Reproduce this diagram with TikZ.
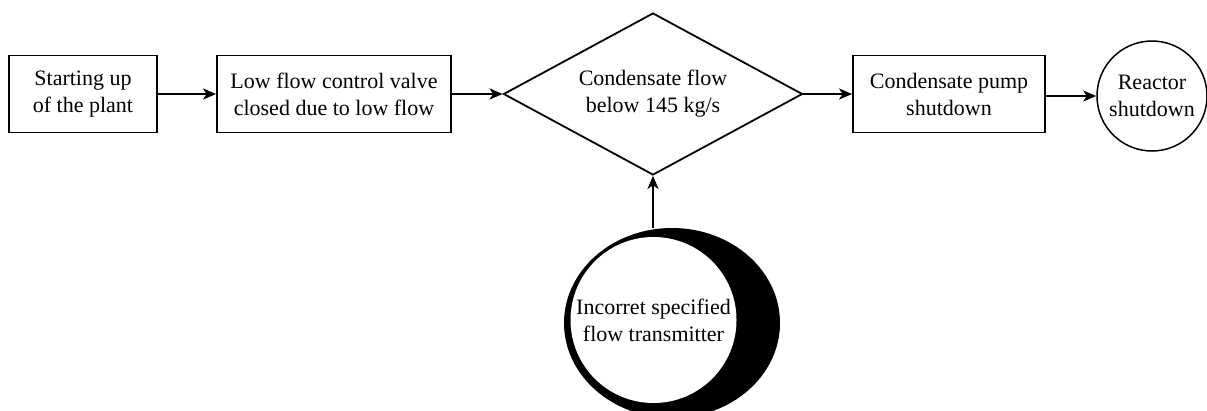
\documentclass[tikz,border=0pt]{standalone}
\usepackage{fontspec}
\setmainfont{Liberation Serif}
\usetikzlibrary{shapes.geometric,arrows.meta}
\tikzset{
  box/.style={draw, line width=1.8pt, rectangle, minimum height=77pt, inner sep=0pt, align=center, font=\fontsize{22}{27}\selectfont},
  decision/.style={draw, line width=1.8pt, diamond, shape aspect=1.85, inner sep=0pt, minimum width=299pt, minimum height=162pt, align=center, font=\fontsize{22}{27}\selectfont},
  endcircle/.style={draw, line width=1.5pt, circle, minimum size=110pt, inner sep=0pt, align=center, font=\fontsize{22}{27}\selectfont},
  shadowshape/.style={ellipse, fill=black, draw=none, minimum width=216pt, minimum height=190pt, inner sep=0pt},
  transcircle/.style={circle, fill=white, draw=none, minimum size=166pt, inner sep=0pt, align=center, font=\fontsize{22}{27}\selectfont},
  arr/.style={line width=2pt, -{Stealth[length=13pt,width=11pt,inset=3.5pt]}}
}
\begin{document}
\begin{tikzpicture}[x=1pt,y=-1pt]
  \clip (0,0) rectangle (1207,410);
  \fill[white] (0,0) rectangle (1207,410);
  \node[box, minimum width=148pt] (b1) at (83,94) {Starting up\\of the plant};
  \node[box, minimum width=234pt] (b2) at (334,94) {Low flow control valve\\closed due to low flow};
  \node[decision] (d) at (653,94) {Condensate flow\\below 145 kg/s};
  \node[box, minimum width=192pt] (b3) at (949,94) {Condensate pump\\shutdown};
  \node[endcircle] (c) at (1152,96) {Reactor\\shutdown};
  \node[shadowshape] (sh) at (672,323) {};
  \node[transcircle] (t) at (653.5,320) {Incorret specified\\flow transmitter};
  \draw[arr] (b1) -- (b2);
  \draw[arr] (b2.east) -- (d.west);
  \draw[arr] (d.east) -- (b3.west);
  \draw[arr] (b3.east |- c.west) -- (c.west);
  \draw[arr] (d.south |- sh.north) -- (d.south);
\end{tikzpicture}
\end{document}
